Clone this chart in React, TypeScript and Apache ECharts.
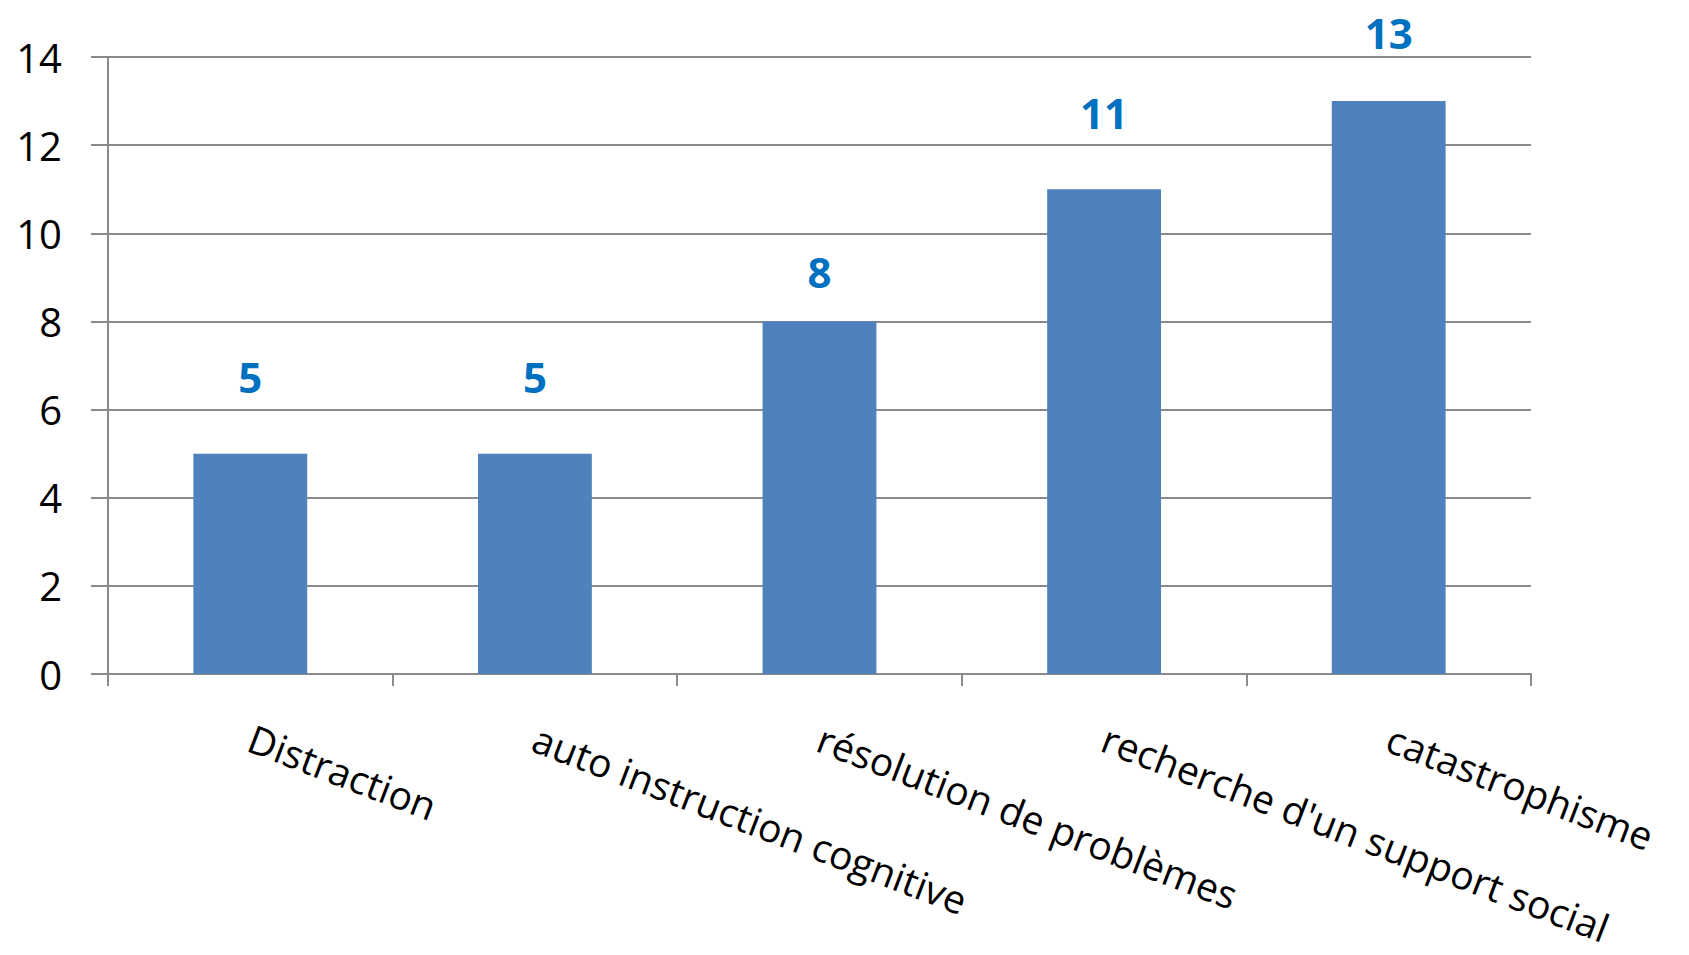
import React, { useEffect, useRef } from "react";
import * as echarts from "echarts";

// Coping strategies and their counts
const categories = [
  "Distraction",
  "auto instruction cognitive",
  "résolution de problèmes",
  "recherche d'un support social",
  "catastrophisme",
];
const counts = [5, 5, 8, 11, 13];
const yTicks = [0, 2, 4, 6, 8, 10, 12, 14];

// Gap between each bar top and its value label
const labelGaps = [60, 60, 33, 60, 52];

const FONT = "'Open Sans', 'DejaVu Sans', sans-serif";

export default function App() {
  const ref = useRef<HTMLDivElement>(null);

  useEffect(() => {
    if (!ref.current) return;
    const chart = echarts.init(ref.current, undefined, { renderer: "svg" });
    const yMin = yTicks[0];
    const yMax = yTicks[yTicks.length - 1];
    const yStep = yTicks[1] - yTicks[0];

    chart.setOption({
      animation: false,
      backgroundColor: "#ffffff",
      grid: { left: 108, right: 158, top: 57, bottom: 281, containLabel: false },
      xAxis: {
        type: "category",
        data: categories,
        axisLine: { show: true, lineStyle: { color: "#8a8a8a", width: 2 } },
        axisTick: { show: true, length: 12, lineStyle: { color: "#8a8a8a", width: 2 } },
        axisLabel: {
          rotate: -21,
          margin: 62,
          interval: 0,
          color: "#000000",
          fontFamily: FONT,
          fontSize: 39,
          lineHeight: 34,
        },
      },
      yAxis: {
        type: "value",
        min: yMin,
        max: yMax,
        interval: yStep,
        axisLine: { show: true, lineStyle: { color: "#8a8a8a", width: 2 } },
        axisTick: { show: true, length: 17, lineStyle: { color: "#8a8a8a", width: 2 } },
        splitLine: { show: true, lineStyle: { color: "#8a8a8a", width: 2 } },
        axisLabel: {
          margin: 46,
          color: "#000000",
          fontFamily: FONT,
          fontSize: 40,
        },
      },
      series: [
        {
          type: "bar",
          data: counts.map((v, i) => ({
            value: v,
            label: { distance: labelGaps[i] },
          })),
          barCategoryGap: "60%",
          itemStyle: { color: "#4f81bd" },
          label: {
            show: true,
            position: "top",
            color: "#0070c0",
            fontFamily: FONT,
            fontWeight: "bold",
            fontSize: 42,
            lineHeight: 34,
          },
        },
      ],
    });

    return () => chart.dispose();
  }, []);

  return (
    <div
      ref={ref}
      style={{ position: "fixed", left: 0, top: 0, width: 1689, height: 955, background: "#fff" }}
    />
  );
}
